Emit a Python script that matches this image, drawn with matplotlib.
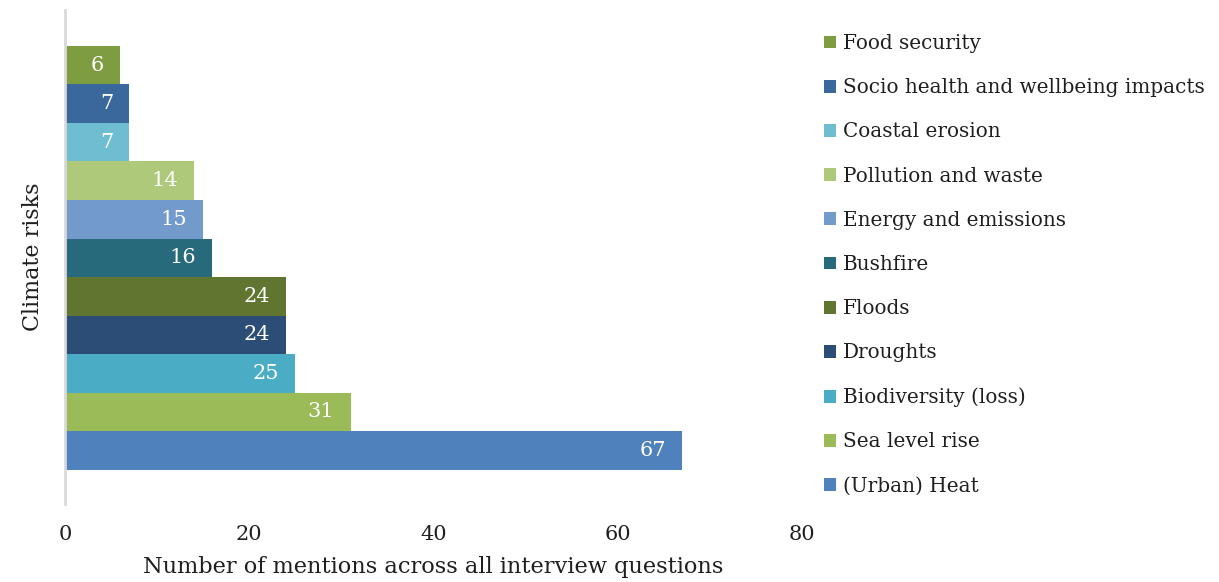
import matplotlib
matplotlib.use("Agg")
import matplotlib.pyplot as plt
from matplotlib.patches import Patch

categories = ["(Urban) Heat", "Sea level rise", "Biodiversity (loss)", "Droughts", "Floods",
              "Bushfire", "Energy and emissions", "Pollution and waste", "Coastal erosion",
              "Socio health and wellbeing impacts", "Food security"]
values = [67, 31, 25, 24, 24, 16, 15, 14, 7, 7, 6]
colors = ["#4F81BD", "#9BBB59", "#4BACC6", "#2C4D75", "#5F7530", "#276A7C",
          "#729ACA", "#AFC97A", "#6FBDD1", "#3A679C", "#7E9C40"]
xticks = [0, 20, 40, 60, 80]

plt.rcParams['font.family'] = ['DejaVu Serif']
TXT = "#1F1F1F"
FS = 15
LFS = 14.4

fig = plt.figure(figsize=(12.19, 5.82), dpi=100)
W, H = 1219, 582
ax = fig.add_axes([65 / W, (H - 504) / H, (802 - 65) / W, (504 - 10) / H])

pos = list(range(len(values)))
ax.barh(pos, values, height=1.0, color=colors, edgecolor="none")
for p, v in zip(pos, values):
    ax.annotate(str(v), xy=(v, p), xytext=(-16, 0), textcoords="offset pixels",
                ha="right", va="center", color="white", fontsize=FS)

ax.set_xlim(0, 80)
ax.set_ylim(-0.5 - 0.89, len(values) - 0.5 + 0.93)
ax.set_xticks(xticks)
ax.set_xticklabels([str(t) for t in xticks], fontsize=FS, color=TXT)
ax.set_yticks([])
ax.tick_params(axis="x", length=0, pad=15)
for s in ["top", "right", "bottom"]:
    ax.spines[s].set_visible(False)
ax.spines["left"].set_color("#D9D9D9")
ax.spines["left"].set_linewidth(2)

ax.set_xlabel("Number of mentions across all interview questions", fontsize=16.2, color=TXT, labelpad=9)
ax.set_ylabel("Climate risks", fontsize=16, color=TXT, labelpad=15)

handles = [Patch(facecolor=c, edgecolor="none", label=l) for c, l in zip(colors, categories)][::-1]
fs_px = LFS * 100 / 72
ls = (43.8 - 0.93 * fs_px) / fs_px
fig.legend(handles=handles, loc="upper left", bbox_to_anchor=(806 / W, 1 - 16 / H),
           frameon=False, fontsize=LFS, handlelength=12 / fs_px, handleheight=12 / fs_px,
           handletextpad=7 / fs_px, labelspacing=ls, labelcolor=TXT)

fig.savefig("out.png", dpi=100)
